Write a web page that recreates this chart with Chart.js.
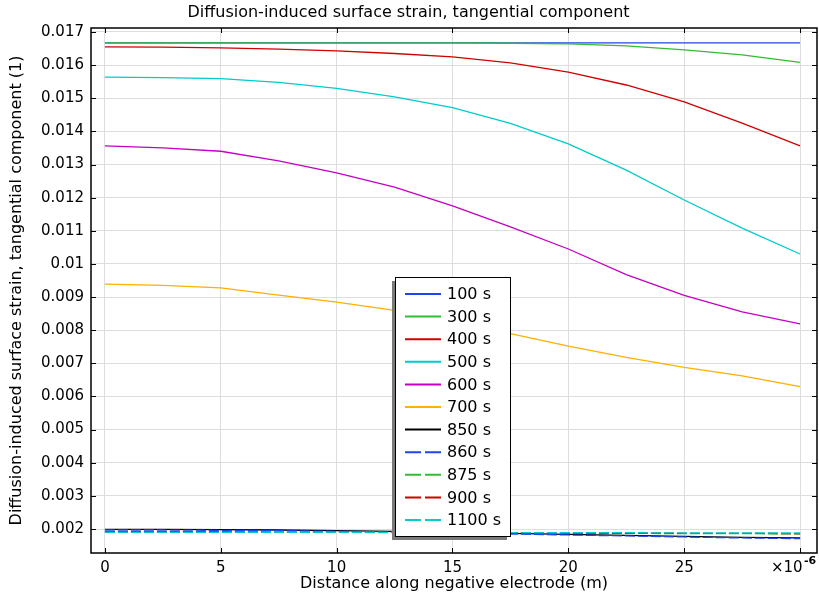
<!DOCTYPE html>
<html>
<head>
<meta charset="utf-8">
<script src="https://cdn.jsdelivr.net/npm/chart.js@4"></script>
<style>
  body { margin: 0; background: #fff; }
  canvas { display: block; }
</style>
</head>
<body>
<canvas id="strain" width="819" height="598"></canvas>
<script>
// distance along the electrode, in micrometres (axis shows x10^-6 m)
const distance = [0, 2.5, 5, 7.5, 10, 12.5, 15, 17.5, 20, 22.5, 25, 27.5, 30];

const times = ['100 s', '300 s', '400 s', '500 s', '600 s', '700 s', '850 s', '860 s', '875 s', '900 s', '1100 s'];

const s100  = [0.01667, 0.01667, 0.01667, 0.01667, 0.01667, 0.01667, 0.01667, 0.01667, 0.01667, 0.01667, 0.01667, 0.01667, 0.01667];
const s300  = [0.01667, 0.01667, 0.01667, 0.01667, 0.01667, 0.01667, 0.01667, 0.01666, 0.01664, 0.01658, 0.01646, 0.01631, 0.01608];
const s400  = [0.01655, 0.01654, 0.01652, 0.01648, 0.01643, 0.01635, 0.01625, 0.01607, 0.01579, 0.01540, 0.01489, 0.01425, 0.01356];
const s500  = [0.01564, 0.01562, 0.01559, 0.01548, 0.01530, 0.01504, 0.01472, 0.01424, 0.01362, 0.01283, 0.01193, 0.01108, 0.01030];
const s600  = [0.01356, 0.01350, 0.01340, 0.01311, 0.01275, 0.01232, 0.01175, 0.01112, 0.01045, 0.00968, 0.00905, 0.00855, 0.00819];
const s700  = [0.00939, 0.00935, 0.00928, 0.00906, 0.00885, 0.00860, 0.00830, 0.00790, 0.00752, 0.00718, 0.00688, 0.00662, 0.00630];
const s850  = [0.00199, 0.00199, 0.00198, 0.00197, 0.00195, 0.00193, 0.00190, 0.00187, 0.00184, 0.00181, 0.00178, 0.00175, 0.00173];
const s860  = [0.00197, 0.00197, 0.00196, 0.00195, 0.00193, 0.00191, 0.00188, 0.00185, 0.00182, 0.00179, 0.00176, 0.00173, 0.00171];
const s875  = [0.00192, 0.00192, 0.00192, 0.00191, 0.00191, 0.00190, 0.00189, 0.00189, 0.00188, 0.00187, 0.00186, 0.00186, 0.00185];
const s900  = [0.00191, 0.00191, 0.00191, 0.00190, 0.00190, 0.00190, 0.00189, 0.00189, 0.00188, 0.00188, 0.00187, 0.00187, 0.00186];
const s1100 = [0.00190, 0.00190, 0.00190, 0.00190, 0.00190, 0.00189, 0.00189, 0.00189, 0.00189, 0.00189, 0.00188, 0.00188, 0.00188];

const series = [s100, s300, s400, s500, s600, s700, s850, s860, s875, s900, s1100];
const colors = ['#1f45f0', '#33bb33', '#d00000', '#00cccc', '#c400c4', '#ffb000', '#000000', '#1f45f0', '#33bb33', '#d00000', '#00cccc'];
const dashed = [false, false, false, false, false, false, false, true, true, true, true];

const xTicks = [0, 5, 10, 15, 20, 25, 30];
const yTicks = [0.002, 0.003, 0.004, 0.005, 0.006, 0.007, 0.008, 0.009, 0.010, 0.011, 0.012, 0.013, 0.014, 0.015, 0.016, 0.017];

const FONT = 'DejaVu Sans';

const datasets = series.map((vals, i) => ({
    label: times[i],
    data: vals.map((v, j) => ({ x: distance[j], y: v })),
    borderColor: colors[i],
    backgroundColor: colors[i],
    borderWidth: 1.3,
    borderDash: dashed[i] ? [10, 3] : [],
    pointRadius: 0,
    tension: 0,
    order: series.length - i // later series on top
}));

// frame, inward tick marks, x10^-6 note
const framePlugin = {
    id: 'frame',
    afterDraw(chart) {
        const { ctx, chartArea: a, scales } = chart;
        ctx.save();
        ctx.strokeStyle = '#000';
        ctx.lineWidth = 1;
        xTicks.forEach(t => {
            const px = Math.round(scales.x.getPixelForValue(t)) + 0.5;
            ctx.beginPath();
            ctx.moveTo(px, a.bottom); ctx.lineTo(px, a.bottom - 5);
            ctx.moveTo(px, a.top); ctx.lineTo(px, a.top + 5);
            ctx.stroke();
        });
        yTicks.forEach(t => {
            const py = Math.round(scales.y.getPixelForValue(t)) + 0.5;
            ctx.beginPath();
            ctx.moveTo(a.left, py); ctx.lineTo(a.left + 5, py);
            ctx.moveTo(a.right, py); ctx.lineTo(a.right - 5, py);
            ctx.stroke();
        });
        ctx.lineWidth = 1.5;
        ctx.strokeRect(a.left, a.top, a.right - a.left, a.bottom - a.top);

        ctx.fillStyle = '#000';
        ctx.textBaseline = 'middle';
        ctx.textAlign = 'left';
        ctx.font = '15px "' + FONT + '"';
        ctx.fillText('\u00d710', 771, 568);
        ctx.font = 'bold 11px "' + FONT + '"';
        ctx.fillText('-6', 804, 561);
        ctx.restore();
    }
};

// boxed legend in the middle of the plot
const legendPlugin = {
    id: 'boxLegend',
    afterDraw(chart) {
        const { ctx } = chart;
        const x0 = 395, y0 = 277, w = 115, h = 259;
        ctx.save();
        ctx.fillStyle = '#7a7a7a';
        ctx.fillRect(x0 - 3, y0 + 4, w, h);
        ctx.fillStyle = '#fff';
        ctx.fillRect(x0, y0, w, h);
        ctx.strokeStyle = '#000';
        ctx.lineWidth = 1;
        ctx.strokeRect(x0 + 0.5, y0 + 0.5, w, h);
        ctx.font = '16px "' + FONT + '"';
        ctx.textBaseline = 'middle';
        chart.data.datasets.forEach((ds, i) => {
            const y = y0 + 17 + i * 22.6;
            ctx.strokeStyle = ds.borderColor;
            ctx.lineWidth = 2;
            ctx.setLineDash(ds.borderDash.length ? [16, 4] : []);
            ctx.beginPath();
            ctx.moveTo(405, y); ctx.lineTo(441, y);
            ctx.stroke();
            ctx.setLineDash([]);
            ctx.fillStyle = '#000';
            ctx.fillText(ds.label, 447, y + 1);
        });
        ctx.restore();
    }
};

new Chart(document.getElementById('strain'), {
    type: 'line',
    data: { datasets },
    plugins: [framePlugin, legendPlugin],
    options: {
        responsive: false,
        animation: false,
        layout: { padding: { right: 2 } },
        plugins: {
            legend: { display: false },
            tooltip: { enabled: false },
            title: {
                display: true,
                text: 'Diffusion-induced surface strain, tangential component',
                color: '#000',
                font: { family: FONT, size: 16, weight: 'normal' },
                padding: { top: 3.5, bottom: 5.3 }
            }
        },
        scales: {
            x: {
                type: 'linear',
                min: -0.6,
                max: 30.73,
                afterBuildTicks: s => { s.ticks = xTicks.map(v => ({ value: v })); },
                afterFit: s => { s.height = 45; },
                ticks: {
                    color: '#000',
                    font: { family: FONT, size: 15 },
                    padding: 6,
                    maxRotation: 0,
                    callback: v => (v === 30 ? '' : String(v))
                },
                grid: { color: '#dedede', drawTicks: false },
                border: { display: false },
                title: {
                    display: true,
                    text: 'Distance along negative electrode (m)',
                    color: '#000',
                    font: { family: FONT, size: 16 },
                    padding: { top: 0, bottom: 5 }
                }
            },
            y: {
                type: 'linear',
                min: 0.001276,
                max: 0.01712,
                afterBuildTicks: s => { s.ticks = yTicks.map(v => ({ value: v })); },
                afterFit: s => { s.width = 91; },
                ticks: {
                    color: '#000',
                    font: { family: FONT, size: 15 },
                    padding: 7,
                    callback: v => String(parseFloat(v.toFixed(3)))
                },
                grid: { color: '#dedede', drawTicks: false },
                border: { display: false },
                title: {
                    display: true,
                    text: 'Diffusion-induced surface strain, tangential component (1)',
                    color: '#000',
                    font: { family: FONT, size: 16 },
                    padding: { top: 7.4, bottom: 0 }
                }
            }
        }
    }
});
</script>
</body>
</html>
